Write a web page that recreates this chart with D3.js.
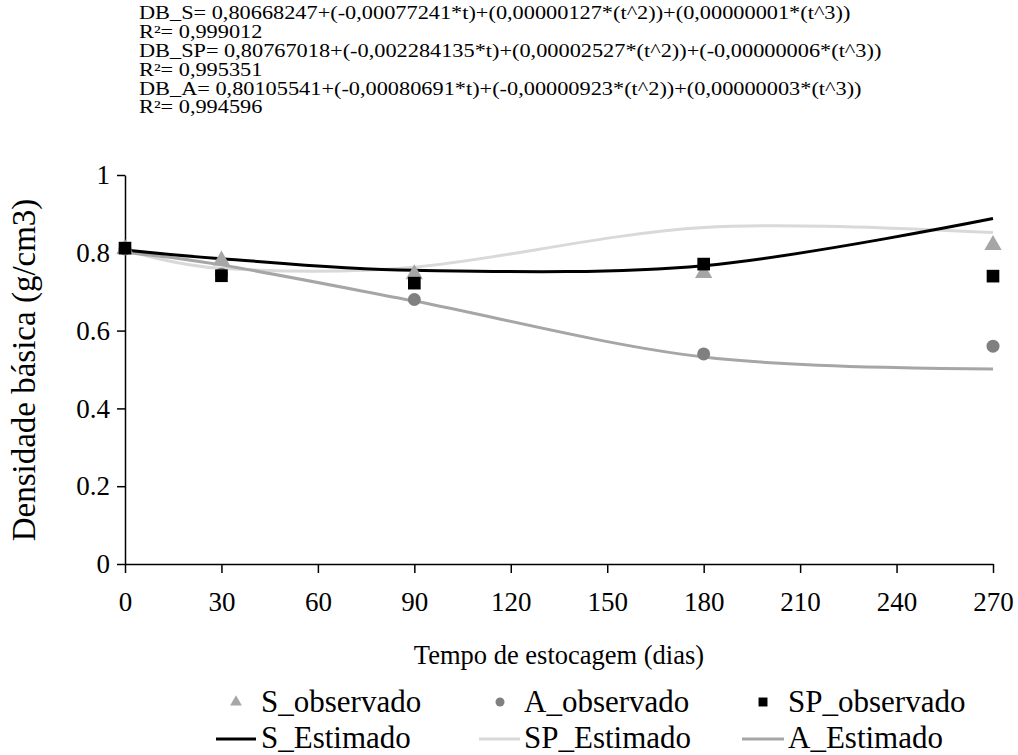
<!DOCTYPE html>
<html><head><meta charset="utf-8">
<script src="https://cdn.jsdelivr.net/npm/d3@7"></script>
<style>
body{margin:0;background:#fff;}
svg{display:block;}
text{font-family:"Liberation Serif","Times New Roman",serif;fill:#000;}
</style></head>
<body>
<svg id="chart" width="1018" height="755"></svg>
<script>
const days = [0, 30, 90, 180, 270];
const S_observado = [0.81, 0.78, 0.745, 0.748, 0.82];
const A_observado = [0.81, 0.745, 0.68, 0.54, 0.56];
const SP_observado = [0.812, 0.741, 0.722, 0.771, 0.74];
const S_estimado = [0.807, 0.785, 0.755, 0.767, 0.888];
const SP_estimado = [0.808, 0.760, 0.763, 0.865, 0.852];
const A_estimado = [0.801, 0.769, 0.676, 0.532, 0.501];
const xTicks = [0, 30, 60, 90, 120, 150, 180, 210, 240, 270];
const yTicks = [0, 0.2, 0.4, 0.6, 0.8, 1];
const yTickLabels = ["0", "0.2", "0.4", "0.6", "0.8", "1"];
const equations = [
  "DB_S= 0,80668247+(-0,00077241*t)+(0,00000127*(t^2))+(0,00000001*(t^3))",
  "R²= 0,999012",
  "DB_SP= 0,80767018+(-0,002284135*t)+(0,00002527*(t^2))+(-0,00000006*(t^3))",
  "R²= 0,995351",
  "DB_A= 0,80105541+(-0,00080691*t)+(-0,00000923*(t^2))+(0,00000003*(t^3))",
  "R²= 0,994596"
];
const xTitle = "Tempo de estocagem (dias)";
const yTitle = "Densidade básica (g/cm3)";

const svg = d3.select("#chart");
const x = d3.scaleLinear().domain([0, 270]).range([125, 993]);
const y = d3.scaleLinear().domain([0, 1]).range([564, 175]);

// equations
svg.append("g").attr("transform", "translate(139,0) scale(1.24,1)")
  .selectAll("text").data(equations).join("text")
  .attr("x", 0).attr("y", (d, i) => 19 + i * 18.9)
  .style("font-size", "18px")
  .text(d => d);

// axes
const yAxis = d3.axisLeft(y).tickValues(yTicks).tickFormat((d, i) => yTickLabels[i]).tickSize(8).tickSizeOuter(0);
const gy = svg.append("g").attr("transform", "translate(125,0)").call(yAxis);
const xAxis = d3.axisBottom(x).tickValues(xTicks).tickFormat(d3.format("d")).tickSize(9).tickSizeOuter(0);
const gx = svg.append("g").attr("transform", "translate(0,564)").call(xAxis);
[gx, gy].forEach(g => {
  g.attr("font-family", null);
  g.select(".domain").attr("stroke", "#000").attr("stroke-width", 1.5);
  g.selectAll(".tick line").attr("stroke", "#000").attr("stroke-width", 1.5);
  g.selectAll(".tick text").style("font-family", '"Liberation Serif", serif').style("font-size", "27px").attr("fill", "#000");
});
gy.selectAll(".tick text").attr("x", -15);
gx.selectAll(".tick text").attr("y", 28);

// axis titles
svg.append("text").attr("x", 559).attr("y", 664).attr("text-anchor", "middle").style("font-size", "26.5px").text(xTitle);
svg.append("text").attr("transform", "translate(35,370) rotate(-90)").attr("text-anchor", "middle").style("font-size", "33px").text(yTitle);

// lines
const line = d3.line().x((d, i) => x(days[i])).y(d => y(d)).curve(d3.curveCardinal.tension(0));
const lines = [
  {v: SP_estimado, c: "#d9d9d9"},
  {v: A_estimado, c: "#a6a6a6"},
  {v: S_estimado, c: "#000000"}
];
svg.append("g").selectAll("path").data(lines).join("path")
  .attr("d", d => line(d.v)).attr("fill", "none").attr("stroke", d => d.c).attr("stroke-width", 3);

// markers
const tri = d3.symbol().type(d3.symbolTriangle).size(130);
const sq = d3.symbol().type(d3.symbolSquare).size(160);
svg.append("g").selectAll("circle").data(A_observado).join("circle")
  .attr("cx", (d, i) => x(days[i])).attr("cy", d => y(d)).attr("r", 6.5).attr("fill", "#808080");
svg.append("g").selectAll("path").data(S_observado).join("path")
  .attr("d", tri).attr("transform", (d, i) => `translate(${x(days[i])},${y(d)})`).attr("fill", "#a6a6a6");
svg.append("g").selectAll("path").data(SP_observado).join("path")
  .attr("d", sq).attr("transform", (d, i) => `translate(${x(days[i])},${y(d)})`).attr("fill", "#000");

// legend
const lg = svg.append("g");
const r1 = 712, r2 = 748;
lg.append("path").attr("d", d3.symbol().type(d3.symbolTriangle).size(60)).attr("transform", "translate(236,702)").attr("fill", "#a6a6a6");
lg.append("circle").attr("cx", 500).attr("cy", 702).attr("r", 4.5).attr("fill", "#808080");
lg.append("path").attr("d", d3.symbol().type(d3.symbolSquare).size(80)).attr("transform", "translate(763,702)").attr("fill", "#000");
const legendLines = [
  {x1: 216, x2: 256, c: "#000"},
  {x1: 479, x2: 520, c: "#d9d9d9"},
  {x1: 742, x2: 784, c: "#a6a6a6"}
];
lg.selectAll("line").data(legendLines).join("line")
  .attr("x1", d => d.x1).attr("x2", d => d.x2).attr("y1", 739).attr("y2", 739)
  .attr("stroke", d => d.c).attr("stroke-width", 3);
const legendText = [
  {t: "S_observado", x: 261, y: r1},
  {t: "A_observado", x: 524, y: r1},
  {t: "SP_observado", x: 788, y: r1},
  {t: "S_Estimado", x: 261, y: r2},
  {t: "SP_Estimado", x: 524, y: r2},
  {t: "A_Estimado", x: 788, y: r2}
];
lg.selectAll("text").data(legendText).join("text")
  .attr("x", d => d.x).attr("y", d => d.y).style("font-size", "31px").text(d => d.t);
</script>
</body></html>
